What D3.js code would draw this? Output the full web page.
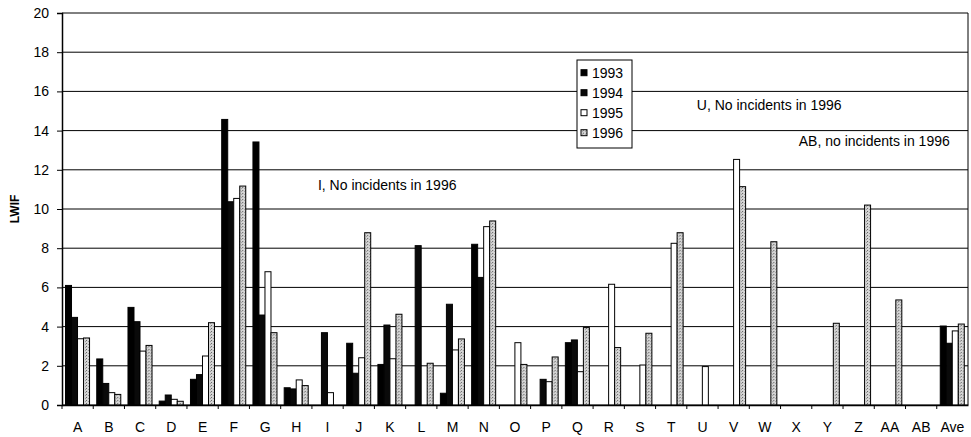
<!DOCTYPE html>
<html>
<head>
<meta charset="utf-8">
<script src="https://cdn.jsdelivr.net/npm/d3@7"></script>
<style>
  body { margin: 0; background: #fff; }
  text { font-family: "Liberation Sans", Arial, sans-serif; }
</style>
</head>
<body>
<div id="chart"></div>
<script>
var categories = ["A","B","C","D","E","F","G","H","I","J","K","L","M","N","O","P","Q","R","S","T","U","V","W","X","Y","Z","AA","AB","Ave"];
var years = ["1993","1994","1995","1996"];

var v1993 = [6.1, 2.35, 4.98, 0.2, 1.31, 14.57, 13.42, 0.88, 0, 3.15, 2.07, 0, 0.6, 8.2, 0, 0, 3.18, 0, 0, 0, 0, 0, 0, 0, 0, 0, 0, 0, 4.03];
var v1994 = [4.47, 1.1, 4.25, 0.51, 1.55, 10.37, 4.59, 0.82, 3.69, 1.62, 4.08, 8.13, 5.14, 6.51, 0, 1.31, 3.32, 0, 0, 0, 0, 0, 0, 0, 0, 0, 0, 0, 3.15];
var v1995 = [3.38, 0.63, 2.75, 0.29, 2.5, 10.54, 6.8, 1.28, 0.63, 2.41, 2.36, 0, 2.81, 9.1, 3.18, 1.19, 1.7, 6.16, 2.04, 8.25, 1.96, 12.53, 0, 0, 0, 0, 0, 0, 3.78];
var v1996 = [3.42, 0.54, 3.04, 0.19, 4.2, 11.17, 3.69, 0.99, 0, 8.79, 4.63, 2.13, 3.37, 9.39, 2.07, 2.45, 3.95, 2.93, 3.66, 8.79, 0, 11.14, 8.33, 0, 4.17, 10.2, 5.36, 0, 4.13];

var yTicks = [0, 2, 4, 6, 8, 10, 12, 14, 16, 18, 20];

// notes: [text, category, value at baseline]
var notes = [
  ["I, No incidents in 1996", "I", 10.97],
  ["U, No incidents in 1996", "U", 15.05],
  ["AB, no incidents in 1996", "AB", 13.2]
];

var margin = {top: 13, right: 3, bottom: 32, left: 62},
    width = 971 - margin.left - margin.right,
    height = 437 - margin.top - margin.bottom;

var svg = d3.select("#chart")
  .append("svg")
  .attr("width", 971)
  .attr("height", 437);

// dotted grey fill used for 1996
var defs = svg.append("defs");
var pat = defs.append("pattern")
  .attr("id", "dots")
  .attr("width", 3).attr("height", 3)
  .attr("patternUnits", "userSpaceOnUse");
pat.append("rect").attr("width", 3).attr("height", 3).attr("fill", "#d4d4d4");
pat.append("rect").attr("x", 0).attr("y", 0).attr("width", 1).attr("height", 1).attr("fill", "#666");
pat.append("rect").attr("x", 2).attr("y", 1).attr("width", 1).attr("height", 1).attr("fill", "#999");

var g = svg.append("g")
  .attr("transform", "translate(" + margin.left + "," + margin.top + ")");

var x0 = d3.scaleBand().domain(categories).range([0, width]).padding(0);
var x1 = d3.scaleBand().domain(years).range([3.5, x0.bandwidth() - 3.7]).padding(0);
var y = d3.scaleLinear().domain([0, 20]).range([height, 0]);

var fills = {"1993": "#000", "1994": "#0a0a0a", "1995": "#fff", "1996": "url(#dots)"};
var series = {"1993": v1993, "1994": v1994, "1995": v1995, "1996": v1996};

// gridlines
g.append("g")
  .selectAll("line")
  .data(yTicks)
  .enter().append("line")
    .attr("x1", 0).attr("x2", width)
    .attr("y1", function(d){ return y(d); })
    .attr("y2", function(d){ return y(d); })
    .attr("stroke", "#000")
    .attr("stroke-width", 1);

// right border
g.append("line")
  .attr("x1", width).attr("x2", width)
  .attr("y1", 0).attr("y2", height)
  .attr("stroke", "#000");

// bars
var groups = g.append("g")
  .selectAll("g")
  .data(categories)
  .enter().append("g")
    .attr("transform", function(d){ return "translate(" + x0(d) + ",0)"; });

groups.selectAll("rect")
  .data(function(d, i){
    return years.map(function(yr){ return {year: yr, value: series[yr][i]}; })
      .filter(function(e){ return e.value > 0; });
  })
  .enter().append("rect")
    .attr("x", function(d){ return x1(d.year); })
    .attr("width", x1.bandwidth())
    .attr("y", function(d){ return y(d.value); })
    .attr("height", function(d){ return height - y(d.value); })
    .attr("fill", function(d){ return fills[d.year]; })
    .attr("stroke", "#000")
    .attr("stroke-width", 1);

// y axis
var yAxis = g.append("g")
  .call(d3.axisLeft(y).tickValues(yTicks).tickSize(5).tickPadding(8));
yAxis.select(".domain").attr("stroke", "#000").attr("stroke-width", 1.5);
yAxis.selectAll("text")
  .style("font-size", "14px")
  .style("font-family", "'Liberation Sans', Arial, sans-serif")
  .attr("fill", "#000");

// x axis
var xAxis = g.append("g")
  .attr("transform", "translate(0," + height + ")")
  .call(d3.axisBottom(x0).tickSize(0).tickPadding(17));
xAxis.select(".domain").attr("stroke", "#000").attr("stroke-width", 1.5);
xAxis.selectAll("text")
  .style("font-size", "14px")
  .style("font-family", "'Liberation Sans', Arial, sans-serif")
  .attr("fill", "#000");
xAxis.selectAll(".sep")
  .data(categories)
  .enter().append("line")
    .attr("class", "sep")
    .attr("x1", function(d){ return x0(d); })
    .attr("x2", function(d){ return x0(d); })
    .attr("y1", 0).attr("y2", 4)
    .attr("stroke", "#000");

// y label
svg.append("text")
  .attr("transform", "translate(19," + (margin.top + height / 2) + ") rotate(-90)")
  .attr("text-anchor", "middle")
  .style("font-size", "12px")
  .style("font-weight", "bold")
  .text("LWIF");

// notes (the AB note is right-aligned near its own category)
g.append("g")
  .selectAll("text")
  .data(notes)
  .enter().append("text")
    .attr("x", function(d){
      if (d[1] === "AB") return x0("Ave") + 13;
      return x0(d[1]) + (d[1] === "U" ? 10 : 6);
    })
    .attr("text-anchor", function(d){ return d[1] === "AB" ? "end" : "start"; })
    .attr("y", function(d){ return y(d[2]); })
    .style("font-size", "14px")
    .text(function(d){ return d[0]; });

// legend
var legend = svg.append("g").attr("transform", "translate(577,60)");
legend.append("rect")
  .attr("width", 55).attr("height", 88)
  .attr("fill", "#fff").attr("stroke", "#000");
var item = legend.selectAll(".item")
  .data(years)
  .enter().append("g")
    .attr("class", "item")
    .attr("transform", function(d, i){ return "translate(0," + (12.7 + i * 20) + ")"; });
item.append("rect")
  .attr("x", 4).attr("y", -3)
  .attr("width", 6).attr("height", 6)
  .attr("fill", function(d){ return fills[d]; })
  .attr("stroke", "#000");
item.append("text")
  .attr("x", 15).attr("y", 5)
  .style("font-size", "14px")
  .text(function(d){ return d; });
</script>
</body>
</html>
